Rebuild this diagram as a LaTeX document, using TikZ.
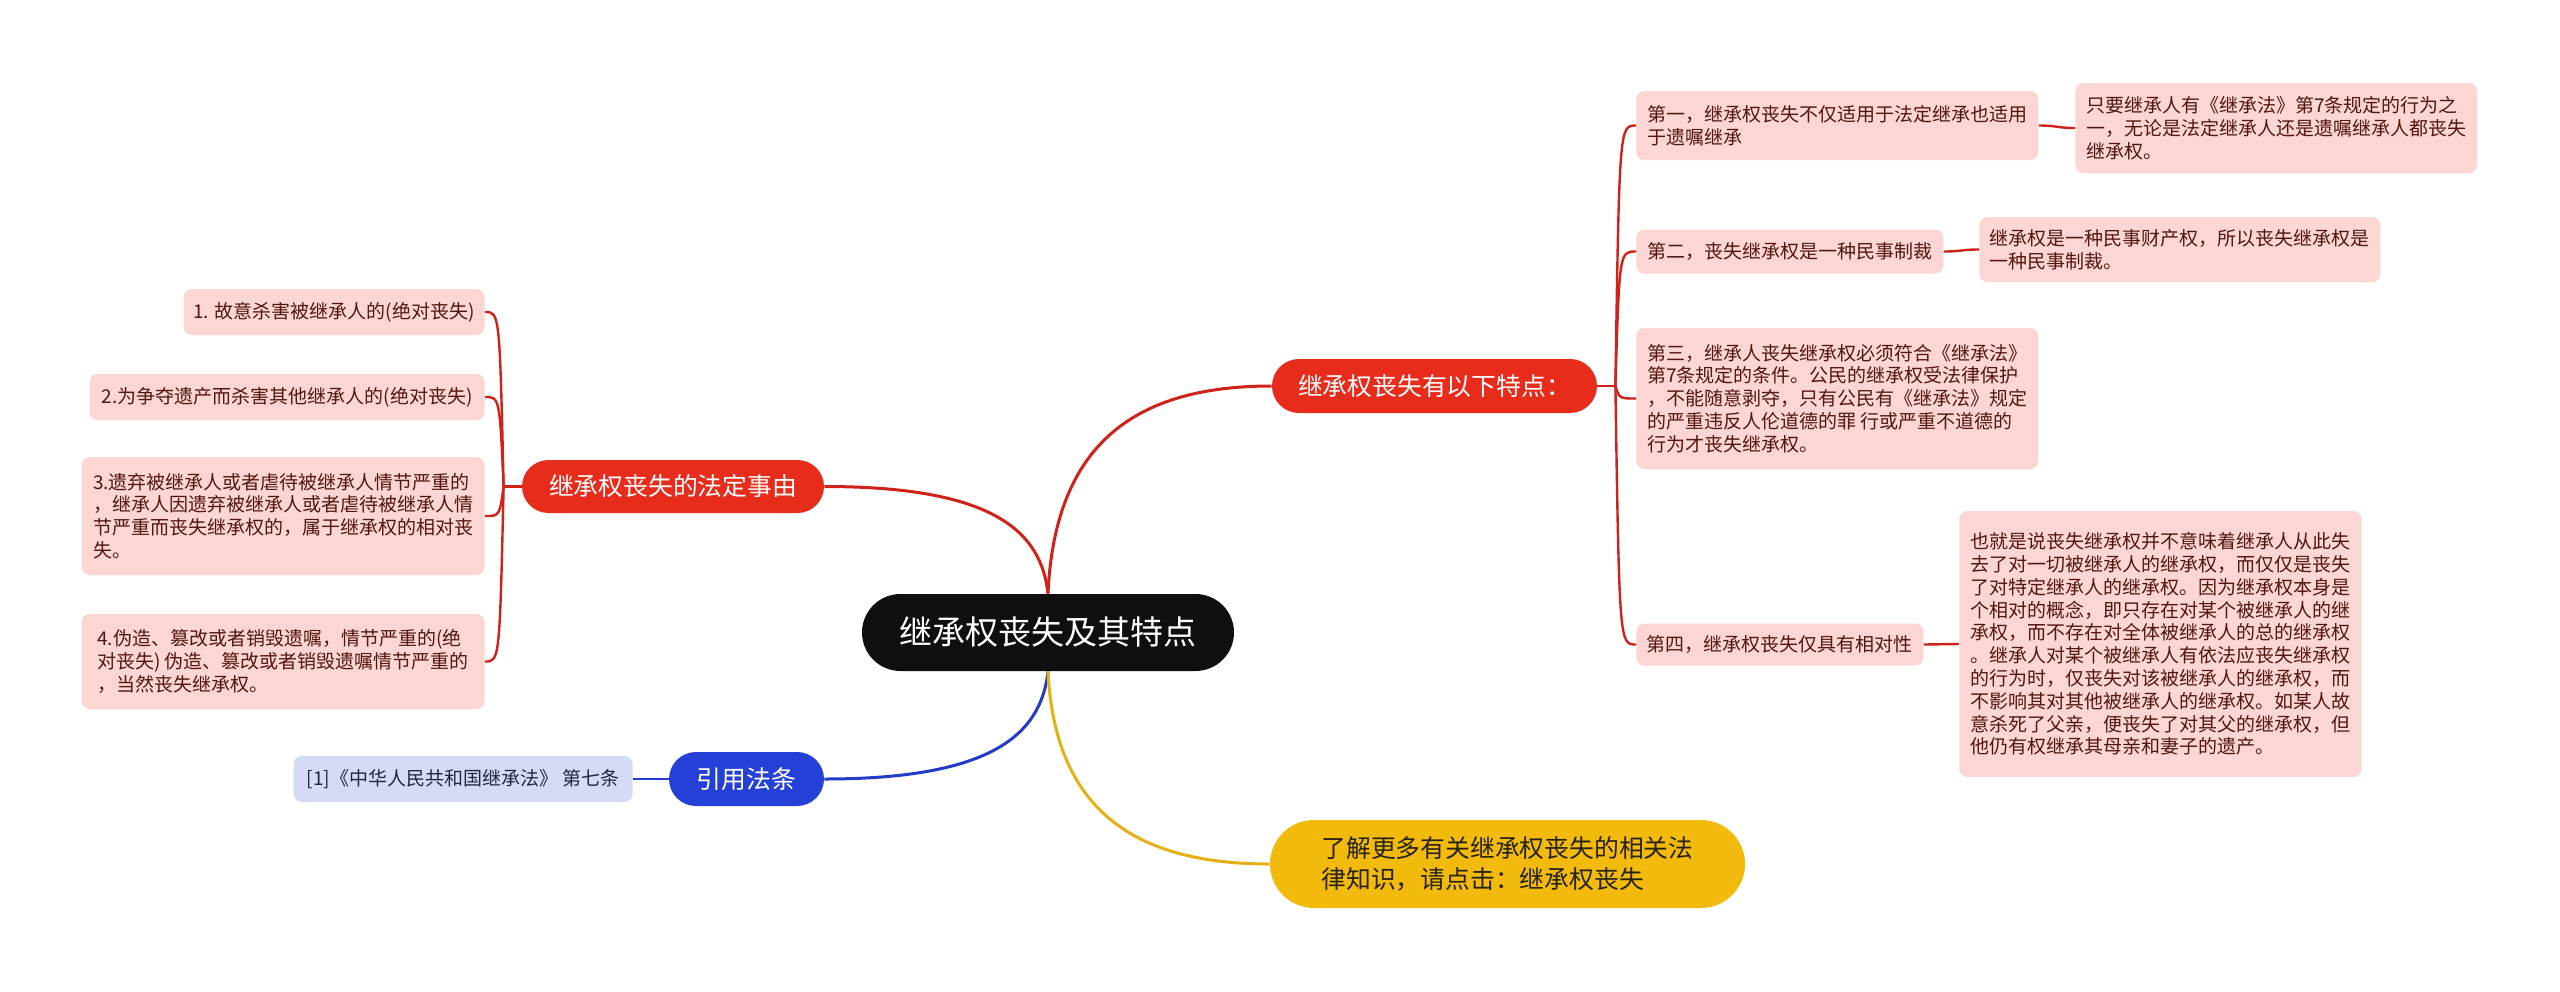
\documentclass[tikz,border=0pt]{standalone}
\usepackage{fontspec}
\setmainfont{Noto Sans CJK SC}
\definecolor{redn}{RGB}{232,44,28}
\definecolor{redl}{RGB}{208,34,24}
\definecolor{pinkf}{RGB}{252,214,211}
\definecolor{pinkt}{RGB}{82,22,16}
\definecolor{bluen}{RGB}{36,64,214}
\definecolor{bluel}{RGB}{36,58,200}
\definecolor{bluef}{RGB}{213,219,247}
\definecolor{bluet}{RGB}{35,35,60}
\definecolor{yelln}{RGB}{241,186,12}
\definecolor{yelll}{RGB}{230,176,20}
\definecolor{centf}{RGB}{15,15,15}
\begin{document}
\begin{tikzpicture}[x=0.5pt,y=-0.5pt,
  leaf/.style={rectangle, rounded corners=4pt, fill=pinkf, text=pinkt,
    font=\fontsize{9.5pt}{11.4pt}\selectfont, align=left, inner sep=0pt},
  bleaf/.style={leaf, fill=bluef, text=bluet},
  mainnode/.style={rectangle, inner sep=0pt, text=white,
    font=\fontsize{12.4pt}{15.8pt}\selectfont, align=center},
  trunk/.style={line width=1.5pt},
  twig/.style={line width=1.2pt, redl}
]
\useasboundingbox (0,0) rectangle (2560,991);
\fill[white] (0,0) rectangle (2560,991);

% central
\node[rectangle, fill=centf, text=white, rounded corners=19.25pt, minimum width=186pt,
  minimum height=38.5pt, inner sep=0pt, font=\fontsize{16.5pt}{20pt}\selectfont]
  (c) at (1048,632.5) {继承权丧失及其特点};

% level 1
\node[mainnode, fill=redn, rounded corners=13.5pt, minimum width=162.5pt, minimum height=27pt]
  (R) at (1434.5,386) {继承权丧失有以下特点：};
\node[mainnode, fill=redn, rounded corners=13.25pt, minimum width=151pt, minimum height=26.5pt]
  (RL) at (673,486.5) {继承权丧失的法定事由};
\node[mainnode, fill=bluen, rounded corners=13.5pt, minimum width=77.5pt, minimum height=27pt]
  (B) at (746.5,779) {引用法条};
\node[mainnode, fill=yelln, text={rgb,255:red,38;green,34;blue,20}, rounded corners=22pt,
  minimum width=237.5pt, minimum height=44pt, align=left]
  (Y) at (1507.5,864) {了解更多有关继承权丧失的相关法\\律知识，请点击：继承权丧失};

% right leaves
\node[leaf, anchor=west, minimum width=201pt, minimum height=34.5pt] (L1) at (1636,125.5)
  {第一，继承权丧失不仅适用于法定继承也适用\\于遗嘱继承};
\node[leaf, anchor=west, minimum width=201pt, minimum height=45pt] (L1c) at (2075,128)
  {只要继承人有《继承法》第7条规定的行为之\\一，无论是法定继承人还是遗嘱继承人都丧失\\继承权。};
\node[leaf, anchor=west, minimum width=153.5pt, minimum height=22pt] (L2) at (1636,251.5)
  {第二，丧失继承权是一种民事制裁};
\node[leaf, anchor=west, minimum width=200.5pt, minimum height=32.5pt] (L2c) at (1979,249.5)
  {继承权是一种民事财产权，所以丧失继承权是\\一种民事制裁。};
\node[leaf, anchor=west, minimum width=201pt, minimum height=70.5pt] (L3) at (1636,398.5)
  {第三，继承人丧失继承权必须符合《继承法》\\第7条规定的条件。公民的继承权受法律保护\\，不能随意剥夺，只有公民有《继承法》规定\\的严重违反人伦道德的罪 行或严重不道德的\\行为才丧失继承权。};
\node[leaf, anchor=west, minimum width=143.5pt, minimum height=21pt] (L4) at (1636,644.5)
  {第四，继承权丧失仅具有相对性};
\node[leaf, anchor=west, minimum width=201pt, minimum height=133pt] (L4c) at (1959,644)
  {也就是说丧失继承权并不意味着继承人从此失\\去了对一切被继承人的继承权，而仅仅是丧失\\了对特定继承人的继承权。因为继承权本身是\\个相对的概念，即只存在对某个被继承人的继\\承权，而不存在对全体被继承人的总的继承权\\。继承人对某个被继承人有依法应丧失继承权\\的行为时，仅丧失对该被继承人的继承权，而\\不影响其对其他被继承人的继承权。如某人故\\意杀死了父亲，便丧失了对其父的继承权，但\\他仍有权继承其母亲和妻子的遗产。};

% left leaves
\node[leaf, anchor=east, minimum width=150.5pt, minimum height=23pt] (LL1) at (485,312)
  {1. 故意杀害被继承人的(绝对丧失)};
\node[leaf, anchor=east, minimum width=197.5pt, minimum height=23pt] (LL2) at (485,397)
  {2.为争夺遗产而杀害其他继承人的(绝对丧失)};
\node[leaf, anchor=east, minimum width=201.5pt, minimum height=59pt] (LL3) at (485,516)
  {3.遗弃被继承人或者虐待被继承人情节严重的\\，继承人因遗弃被继承人或者虐待被继承人情\\节严重而丧失继承权的，属于继承权的相对丧\\失。};
\node[leaf, anchor=east, minimum width=201.5pt, minimum height=47.5pt] (LL4) at (485,661.5)
  {4.伪造、篡改或者销毁遗嘱，情节严重的(绝\\对丧失) 伪造、篡改或者销毁遗嘱情节严重的\\，当然丧失继承权。};

% blue leaf
\node[bleaf, anchor=east, minimum width=169.5pt, minimum height=23pt] (BL) at (633,779)
  {[1]《中华人民共和国继承法》 第七条};

% main connectors
\draw[trunk, redl] (c.north) .. controls +(7,-154) and +(-132,0) .. (R.west);
\draw[trunk, redl] (c.north) .. controls +(-7,-64) and +(166,0) .. (RL.east);
\draw[trunk, bluel] (c.south) .. controls +(-7,64) and +(166,0) .. (B.east);
\draw[trunk, yelll] (c.south) .. controls +(7,143) and +(-130,0) .. (Y.west);

% right branch
\coordinate (J) at ([xshift=9pt]R.east);
\draw[twig] (R.east) -- (J);
\foreach \n in {L1,L2,L3,L4}{
  \draw[twig] (J) .. controls ([xshift=2pt]J |- \n.west) and ([xshift=2pt]J |- \n.west) .. (\n.west);
}
\draw[twig] (L1.east) .. controls +(18,0) and +(-18,0) .. (L1c.west);
\draw[twig] (L2.east) .. controls +(18,0) and +(-18,0) .. (L2c.west);
\draw[twig] (L4.east) .. controls +(18,0) and +(-18,0) .. (L4c.west);

% left branch
\coordinate (J2) at ([xshift=-9pt]RL.west);
\draw[twig] (RL.west) -- (J2);
\foreach \n in {LL1,LL2,LL3,LL4}{
  \draw[twig] (J2) .. controls ([xshift=-2pt]J2 |- \n.east) and ([xshift=-2pt]J2 |- \n.east) .. (\n.east);
}

% blue branch
\draw[line width=1.2pt, bluel] (B.west) -- (BL.east);
\end{tikzpicture}
\end{document}
